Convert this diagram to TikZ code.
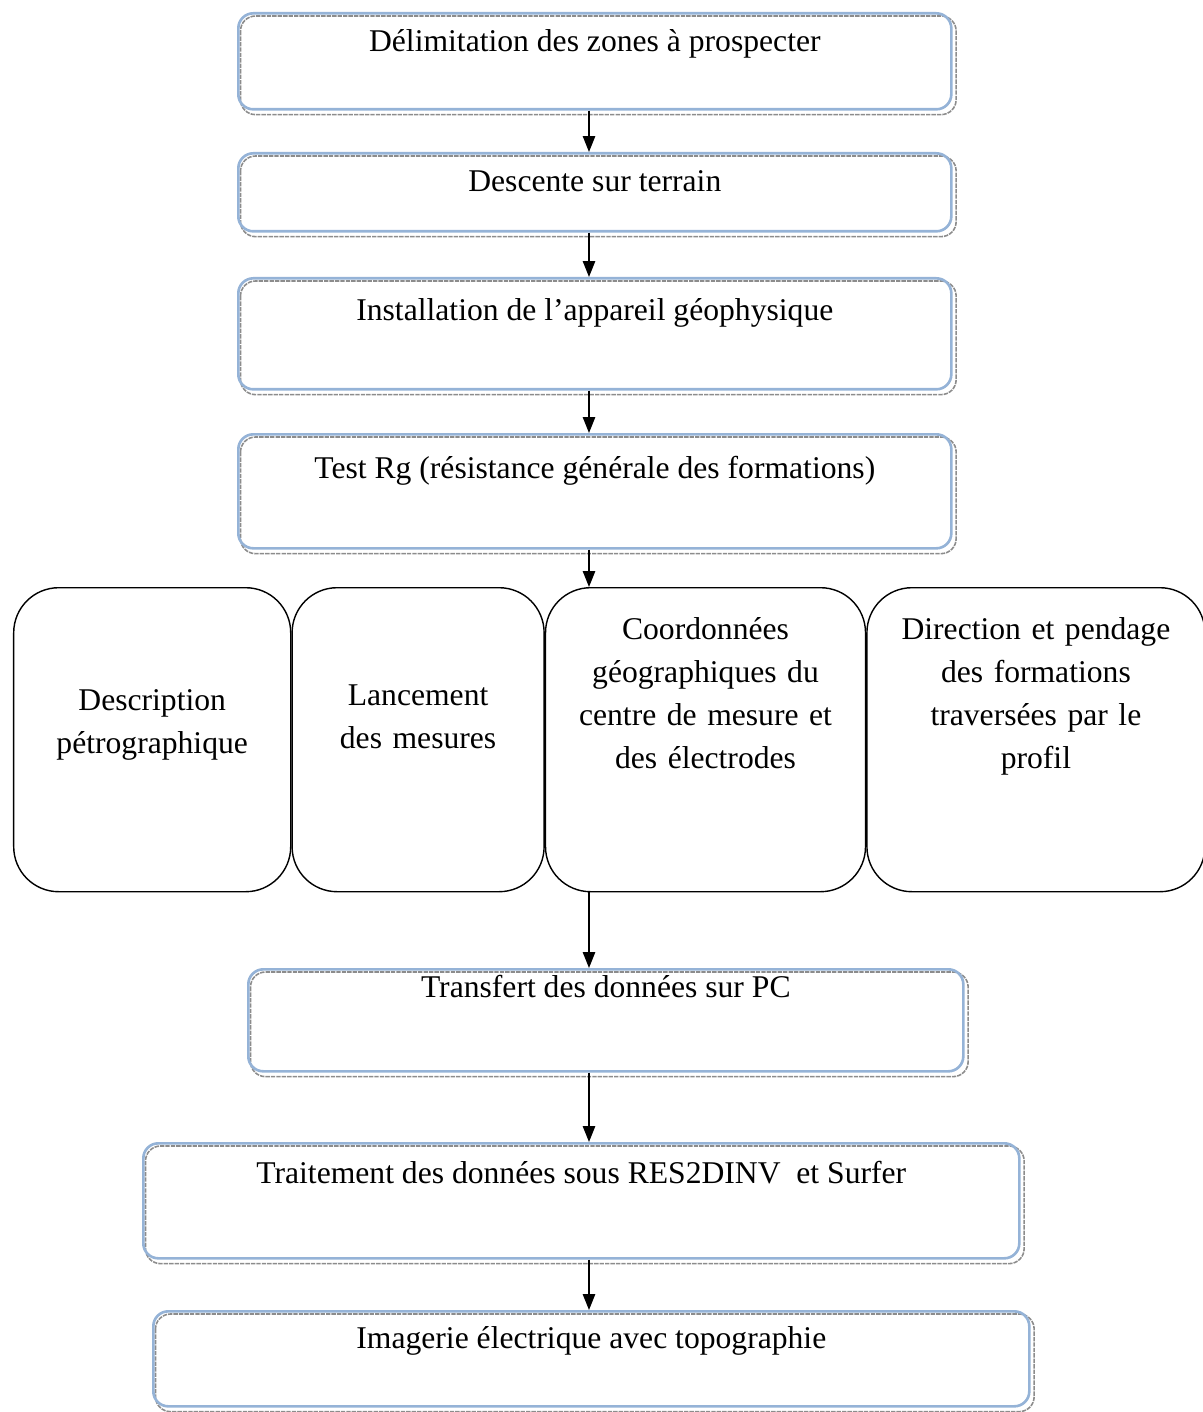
\documentclass[tikz,border=0pt]{standalone}
\usepackage{fontspec}
\setmainfont{Liberation Serif}
\usetikzlibrary{positioning,arrows.meta,backgrounds}
\definecolor{boxblue}{RGB}{149,179,215}

\begin{document}
\begin{tikzpicture}[
stepbox/.style={draw=boxblue,line width=1.5pt,rounded corners=.3cm,inner sep=0pt,
    anchor=north west,font=\fontsize{18}{24.4}\selectfont},
stepshadow/.style={draw=black!45,line width=.9pt,rounded corners=.3cm,dash pattern=on 2.5pt off .6pt},
rowbox/.style={draw,line width=.8pt,rounded corners=.9cm,inner sep=0pt,anchor=north west,
    minimum height=6.08cm,align=center,font=\fontsize{18}{24.4}\selectfont},
flow/.style={line width=.8pt,-{Triangle[width=7pt,length=9pt]}}]
\useasboundingbox (0,0) rectangle (24.04,-28.24);
\coordinate (axis) at (11.78,0);

\node (delim) [stepbox,minimum width=14.26cm,text height=.76cm,text depth=1.16cm]
    at (4.74,-.24) {Délimitation des zones à prospecter};
\node (descente) [stepbox,minimum width=14.26cm,text height=.76cm,text depth=.80cm]
    at (4.74,-3.04) {Descente sur terrain};
\node (install) [stepbox,minimum width=14.26cm,text height=.84cm,text depth=1.38cm]
    at (4.74,-5.54) {Installation de l’appareil géophysique};
\node (testrg) [stepbox,minimum width=14.26cm,text height=.88cm,text depth=1.40cm]
    at (4.74,-8.66) {Test Rg (résistance générale des formations)};

% row of four boxes
\node (desc) [rowbox,minimum width=5.54cm,text width=5.2cm,text height=2.46cm,text depth=3.62cm]
    at (.26,-11.74) {Description\\pétrographique};
\node (lanc) [rowbox,minimum width=5.04cm,text width=4.8cm,text height=2.36cm,text depth=3.72cm,
    right=0pt of desc] {Lancement\\des mesures};
\node (coord) [rowbox,minimum width=6.40cm,text width=6.2cm,text height=1.04cm,text depth=5.04cm,
    right=0pt of lanc] {Coordonnées\\géographiques du\\centre de mesure et\\des électrodes};
\node (dir) [rowbox,minimum width=6.76cm,text width=6.5cm,text height=1.04cm,text depth=5.04cm,
    right=0pt of coord] {Direction et pendage\\des formations\\traversées par le\\profil};

\node (transfert) [stepbox,minimum width=14.30cm,text height=.56cm,text depth=1.48cm]
    at (4.94,-19.36) {Transfert des données sur PC};
\node (traitement) [stepbox,minimum width=17.52cm,text height=.80cm,text depth=1.50cm]
    at (2.84,-22.84) {Traitement des données sous RES2DINV~ et Surfer};
\node (imagerie) [stepbox,minimum width=17.52cm,text height=.74cm,text depth=1.16cm]
    at (3.04,-26.20) {Imagerie électrique avec topographie};

\begin{scope}[on background layer]
\foreach \b in {delim,descente,install,testrg,transfert,traitement,imagerie}
  \draw[stepshadow] ([shift={(.07,-.08)}]\b.north west) rectangle ([shift={(.07,-.08)}]\b.south east);
\end{scope}

\draw[flow] (delim.south -| axis) -- (descente.north -| axis);
\draw[flow] (descente.south -| axis) -- (install.north -| axis);
\draw[flow] (install.south -| axis) -- (testrg.north -| axis);
\draw[flow] (testrg.south -| axis) -- (coord.north -| axis);
\draw[flow] (coord.south -| axis) -- (transfert.north -| axis);
\draw[flow] (transfert.south -| axis) -- (traitement.north -| axis);
\draw[flow] (traitement.south -| axis) -- (imagerie.north -| axis);
\end{tikzpicture}
\end{document}
